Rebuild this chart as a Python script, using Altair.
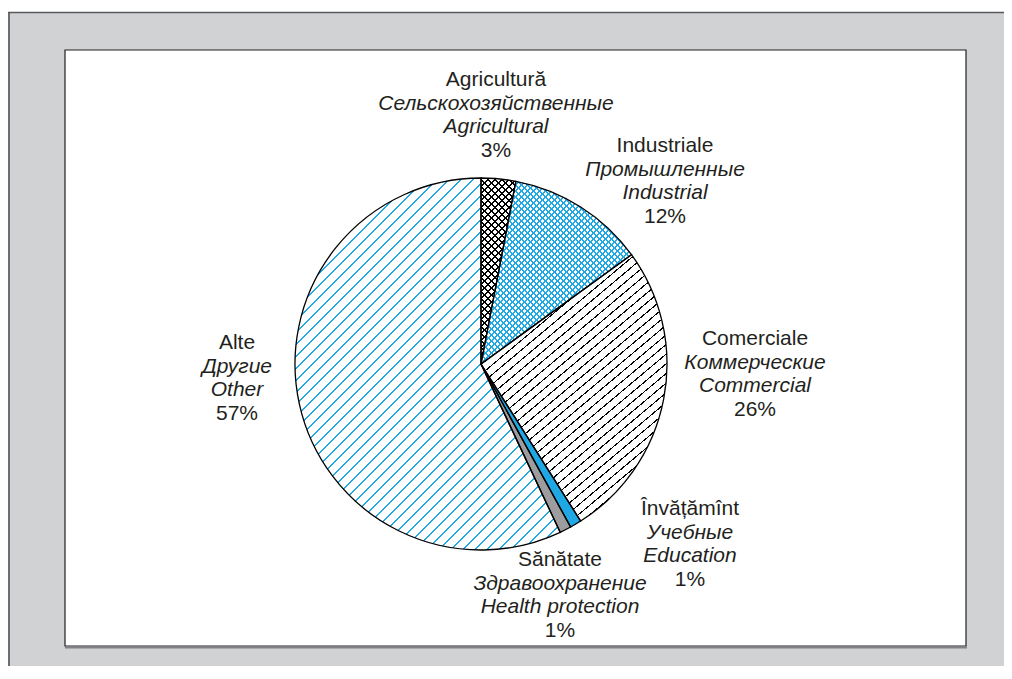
import math
import altair as alt
import pandas as pd

# ---------------- data ----------------
categories_ro = ["Agricultură", "Industriale", "Comerciale", "Învățămînt", "Sănătate", "Alte"]
categories_ru = ["Сельскохозяйственные", "Промышленные", "Коммерческие", "Учебные", "Здравоохранение", "Другие"]
categories_en = ["Agricultural", "Industrial", "Commercial", "Education", "Health protection", "Other"]
shares = [3, 12, 26, 1, 1, 57]
share_labels = ["3%", "12%", "26%", "1%", "1%", "57%"]

# ---------------- layout / style ----------------
OFF = 8                      # page margin
W, H = 996, 658              # drawing size
CX, CY, R = 481 - OFF, 364 - OFF, 186
BLUE = "#1fa8e4"
INK = "#231f20"
GRAY_BG = "#d1d2d4"
FONT = "Liberation Sans"
FS = 21
LINE_GAP = 23.7
# label anchor (centre x, first baseline y) in page pixels
label_pos = [(496, 86), (665, 152), (755, 345), (690, 515), (560, 566), (237, 349)]
TRANSP = "rgba(255,255,255,0)"
K = 6                        # gradient bands per hatch family
S2 = math.sqrt(2)


def diag(angle, period_px, width_px, colour):
    """45/135 degree hatch aligned to the pixel grid (period and width in pixel steps)."""
    return (angle, period_px / S2, width_px / S2, colour, -0.5 / S2)


def free(angle, spacing, lw, colour):
    return (angle, spacing, lw, colour, -lw / 2)


# base fill of each slice and its hatch families
base_fill = ["#ffffff", "#ffffff", "#ffffff", BLUE, "#9d9d9f", "#ffffff"]
family_a = [diag(45, 7, 2, "#000000"), diag(45, 6, 2, BLUE), free(40, 7.4, 1.1, "#000000"),
            None, None, diag(45, 12, 2, BLUE)]
family_b = [diag(135, 7, 2, "#000000"), diag(135, 6, 2, BLUE), None, None, None, None]


def pt(a):
    return (R * math.sin(a), -R * math.cos(a))


def arc_bbox(a0, a1):
    pts = [(0.0, 0.0), pt(a0), pt(a1)]
    for k in range(5):
        q = k * math.pi / 2
        if a0 < q < a1:
            pts.append(pt(q))
    xs = [p[0] for p in pts]
    ys = [p[1] for p in pts]
    return (CX + min(xs), CY + min(ys), max(xs) - min(xs), max(ys) - min(ys))


def hatch_bands(bbox, spec):
    angle, spacing, lw, line, p0 = spec
    th = math.radians(angle)
    nx, ny = math.sin(th), math.cos(th)
    x0, y0, w, h = bbox
    corners = [(x0, y0), (x0 + w, y0), (x0, y0 + h), (x0 + w, y0 + h)]
    norm = [(0, 0), (1, 0), (0, 1), (1, 1)]
    vals = [nx * X + ny * Y for X, Y in corners]
    imin = min(range(4), key=lambda i: vals[i])
    dmin, dmax = vals[imin], max(vals)
    D = dmax - dmin
    kf = D / (nx * nx * w * w + ny * ny * h * h)
    gx, gy = kf * nx * w, kf * ny * h
    q0 = norm[imin]
    out = []
    for j in range(K):
        b0 = dmin + D * j / K
        b1 = dmin + D * (j + 1) / K
        bw = b1 - b0
        f0, f1 = (b0 - dmin) / D, (b1 - dmin) / D
        stops = [{"offset": 0, "color": TRANSP}]
        for m in range(math.floor(b0 / spacing) - 2, math.ceil(b1 / spacing) + 2):
            lo = m * spacing + p0
            a = (lo - b0) / bw
            b = (lo + lw - b0) / bw
            if b <= 0 or a >= 1:
                continue
            a = round(max(a, 0.0), 7)
            b = round(min(b, 1.0), 7)
            stops += [{"offset": a, "color": TRANSP}, {"offset": a, "color": line},
                      {"offset": b, "color": line}, {"offset": b, "color": TRANSP}]
        stops.append({"offset": 1, "color": TRANSP})
        out.append({"gradient": "linear",
                    "x1": q0[0] + f0 * gx, "y1": q0[1] + f0 * gy,
                    "x2": q0[0] + f1 * gx, "y2": q0[1] + f1 * gy,
                    "stops": stops})
    return out


total = sum(shares)
boxes = []
acc = 0
for s in shares:
    a0 = acc / total * 2 * math.pi
    acc += s
    a1 = acc / total * 2 * math.pi
    boxes.append(arc_bbox(a0, a1))

pie_df = pd.DataFrame({"idx": list(range(len(shares))), "cat": categories_ro, "share": shares})
base = alt.Chart(pie_df)
enc = dict(theta=alt.Theta("share:Q", stack=True), order=alt.Order("idx:Q"),
           x=alt.value(CX), y=alt.value(CY))

pie_layers = [
    base.mark_arc(radius=R, strokeWidth=0).encode(
        fill={"condition": [{"test": f"datum.idx === {i}", "value": f} for i, f in enumerate(base_fill)],
              "value": "white"}, **enc)
]
for fam in (family_a, family_b):
    bands = [hatch_bands(boxes[i], sp) if sp is not None else None for i, sp in enumerate(fam)]
    for j in range(K):
        cond = [{"test": f"datum.idx === {i}", "value": bands[i][j]}
                for i in range(len(shares)) if bands[i] is not None]
        pie_layers.append(base.mark_arc(radius=R, strokeWidth=0).encode(
            fill={"condition": cond, "value": TRANSP}, **enc))
pie_layers.append(base.mark_arc(radius=R, filled=False, stroke="#000000", strokeWidth=1.3).encode(**enc))

# ---------------- labels ----------------
rows = []
for i in range(len(shares)):
    lx, ly = label_pos[i]
    texts = [(categories_ro[i], "n"), (categories_ru[i], "i"), (categories_en[i], "i"), (share_labels[i], "n")]
    for j, (t, st) in enumerate(texts):
        rows.append({"text": t, "style": st, "x": lx - OFF, "y": ly - OFF + j * LINE_GAP})
lab_df = pd.DataFrame(rows)

lab_n = alt.Chart(lab_df).transform_filter("datum.style === 'n'").mark_text(
    font=FONT, fontSize=FS, align="center", baseline="alphabetic", color=INK
).encode(x=alt.X("x:Q", scale=None), y=alt.Y("y:Q", scale=None), text="text:N")
lab_i = alt.Chart(lab_df).transform_filter("datum.style === 'i'").mark_text(
    font=FONT, fontSize=FS, fontStyle="italic", align="center", baseline="alphabetic", color=INK
).encode(x=alt.X("x:Q", scale=None), y=alt.Y("y:Q", scale=None), text="text:N")

# ---------------- frame ----------------
one = alt.Chart(pd.DataFrame({"a": [0]}))
gray = one.mark_rect(fill=GRAY_BG).encode(
    x=alt.value(0), x2=alt.value(W), y=alt.value(4), y2=alt.value(H))
gray_left = one.mark_rule(color="#6d6e71", strokeWidth=2).encode(
    x=alt.value(1), y=alt.value(4), y2=alt.value(H))
gray_top = one.mark_rule(color="#58595b", strokeWidth=1.5).encode(
    x=alt.value(0), x2=alt.value(W), y=alt.value(4.5))
white = one.mark_rect(fill="white", stroke=INK, strokeWidth=1.2).encode(
    x=alt.value(57), x2=alt.value(958), y=alt.value(42), y2=alt.value(638))
shadow = one.mark_rule(color="#808285", strokeWidth=2).encode(
    x=alt.value(57), x2=alt.value(959), y=alt.value(639.5))

chart = alt.layer(
    gray, gray_left, gray_top, white, shadow, *pie_layers, lab_n, lab_i
).properties(width=W, height=H, autosize="none", padding=0).configure_view(stroke=None)

chart.save("out.html", embed_options={"renderer": "svg", "actions": False})
